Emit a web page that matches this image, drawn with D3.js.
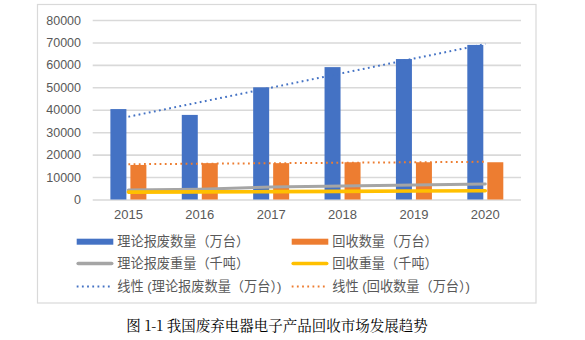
<!DOCTYPE html>
<html>
<head>
<meta charset="utf-8">
<script src="https://cdn.jsdelivr.net/npm/d3@7/dist/d3.min.js"></script>
<style>
  html, body { margin: 0; padding: 0; background: #fff; }
  svg { display: block; }
</style>
</head>
<body>
<svg id="chart" width="585" height="340"></svg>
<script>
// Data
const years = ["2015", "2016", "2017", "2018", "2019", "2020"];
const scrapCount = [40300, 37700, 50000, 59000, 62600, 68900];   // 理论报废数量（万台）
const recycledCount = [15400, 16200, 16200, 16600, 16600, 16600]; // 回收数量（万台）
const scrapWeight = [4200, 4600, 5600, 6000, 6500, 6900];        // 理论报废重量（千吨）
const recycledWeight = [3300, 3400, 3500, 3600, 3800, 3900];      // 回收重量（千吨）
const yTicks = [0, 10000, 20000, 30000, 40000, 50000, 60000, 70000, 80000];

const seriesNames = {
  scrapCount: "理论报废数量（万台）",
  recycledCount: "回收数量（万台）",
  scrapWeight: "理论报废重量（千吨）",
  recycledWeight: "回收重量（千吨）",
  trendScrap: "线性 (理论报废数量（万台）)",
  trendRecycled: "线性 (回收数量（万台）)"
};

const C = {
  blue: "#4472C4", orange: "#ED7D31", gray: "#A5A5A5", yellow: "#FFC000",
  grid: "#D9D9D9", text: "#595959"
};
const FONT = "'Liberation Sans', Arial, 'Noto Sans CJK SC', sans-serif";

const svg = d3.select("#chart");

// Outer chart frame
svg.append("rect")
  .attr("x", 37.5).attr("y", 4.5).attr("width", 498.5).attr("height", 298.5)
  .attr("fill", "#fff").attr("stroke", C.grid).attr("stroke-width", 1.2);

const plot = { left: 92.7, right: 521, top: 20, bottom: 199.5 };

const x = d3.scaleBand().domain(years).range([plot.left, plot.right]);
const y = d3.scaleLinear().domain([0, 80000]).range([plot.bottom, plot.top]);

// Gridlines and y labels
const yAxis = d3.axisLeft(y).tickValues(yTicks).tickFormat(d3.format("d"))
  .tickSize(-(plot.right - plot.left)).tickPadding(11.7);
const gy = svg.append("g").attr("transform", `translate(${plot.left},0)`).call(yAxis);
gy.select(".domain").remove();
gy.selectAll(".tick line").attr("stroke", C.grid).attr("stroke-width", 1.6);
gy.selectAll(".tick text").attr("fill", C.text).attr("font-size", 12.5).attr("font-family", FONT);

// x labels
const xAxis = d3.axisBottom(x).tickSize(0).tickPadding(10);
const gx = svg.append("g").attr("transform", `translate(0,${plot.bottom})`).call(xAxis);
gx.select(".domain").remove();
gx.selectAll(".tick text").attr("fill", C.text).attr("font-size", 13).attr("font-family", FONT);

// Bars: two per year, centred on the band
const barW = 16, barGap = 2;
const cx = d => x(d) + x.bandwidth() / 2;

svg.append("g").selectAll("rect").data(years).join("rect")
  .attr("x", d => cx(d) - barGap - barW)
  .attr("y", (d, i) => y(scrapCount[i]))
  .attr("width", barW)
  .attr("height", (d, i) => y(0) - y(scrapCount[i]))
  .attr("fill", C.blue);

svg.append("g").selectAll("rect").data(years).join("rect")
  .attr("x", d => cx(d) + barGap)
  .attr("y", (d, i) => y(recycledCount[i]))
  .attr("width", barW)
  .attr("height", (d, i) => y(0) - y(recycledCount[i]))
  .attr("fill", C.orange);

// Weight lines
const line = d3.line().x((d, i) => cx(years[i])).y(d => y(d));
svg.append("path").datum(scrapWeight).attr("d", line)
  .attr("fill", "none").attr("stroke", C.gray).attr("stroke-width", 3).attr("stroke-linecap", "round");
svg.append("path").datum(recycledWeight).attr("d", line)
  .attr("fill", "none").attr("stroke", C.yellow).attr("stroke-width", 3.6).attr("stroke-linecap", "round");

// Linear trend lines (least squares over year index)
function linearFit(vals) {
  const n = vals.length;
  const xm = (n - 1) / 2;
  const ym = d3.mean(vals);
  let sxy = 0, sxx = 0;
  vals.forEach((v, i) => { sxy += (i - xm) * (v - ym); sxx += (i - xm) * (i - xm); });
  const slope = sxy / sxx;
  return vals.map((v, i) => ym + slope * (i - xm));
}
const trendScrap = linearFit(scrapCount);
const trendRecycled = linearFit(recycledCount);
const trendLine = d3.line().x((d, i) => cx(years[i])).y(d => y(d));

svg.append("path").datum(trendScrap).attr("d", trendLine)
  .attr("fill", "none").attr("stroke", C.blue).attr("stroke-width", 2)
  .attr("stroke-dasharray", "1.8 3.4");
svg.append("path").datum(trendRecycled).attr("d", trendLine)
  .attr("fill", "none").attr("stroke", C.orange).attr("stroke-width", 2)
  .attr("stroke-dasharray", "1.8 3.4");

// Legend
const legendItems = [
  { key: "scrapCount", col: 0, row: 0, type: "bar", color: C.blue },
  { key: "recycledCount", col: 1, row: 0, type: "bar", color: C.orange },
  { key: "scrapWeight", col: 0, row: 1, type: "line", color: C.gray },
  { key: "recycledWeight", col: 1, row: 1, type: "line", color: C.yellow },
  { key: "trendScrap", col: 0, row: 2, type: "dot", color: C.blue },
  { key: "trendRecycled", col: 1, row: 2, type: "dot", color: C.orange }
];
const colX = [76.7, 291.7];
const rowY = [241.7, 263.5, 286.5];

const lg = svg.append("g").selectAll("g").data(legendItems).join("g")
  .attr("transform", d => `translate(${colX[d.col]},${rowY[d.row]})`);

lg.filter(d => d.type === "bar").append("rect")
  .attr("x", 0).attr("y", -3).attr("width", 36.6).attr("height", 6).attr("fill", d => d.color);
lg.filter(d => d.type === "line").append("line")
  .attr("x1", 1.5).attr("x2", 35).attr("y1", 0).attr("y2", 0)
  .attr("stroke", d => d.color).attr("stroke-width", 3.6).attr("stroke-linecap", "round");
lg.filter(d => d.type === "dot").append("line")
  .attr("x1", 0).attr("x2", 34).attr("y1", 0).attr("y2", 0)
  .attr("stroke", d => d.color).attr("stroke-width", 2).attr("stroke-dasharray", "1.8 3.4");

lg.append("text")
  .attr("x", 40.6).attr("y", 0).attr("dy", "0.36em")
  .attr("fill", C.text).attr("font-size", 13.2).attr("font-family", FONT)
  .text(d => seriesNames[d.key]);

// Caption
svg.append("text")
  .attr("x", 277).attr("y", 331)
  .attr("text-anchor", "middle")
  .attr("font-size", 14.5)
  .attr("font-family", "'Noto Serif CJK SC', 'Noto Sans CJK SC', serif")
  .attr("fill", "#000")
  .text("图 1-1 我国废弃电器电子产品回收市场发展趋势");
</script>
</body>
</html>
